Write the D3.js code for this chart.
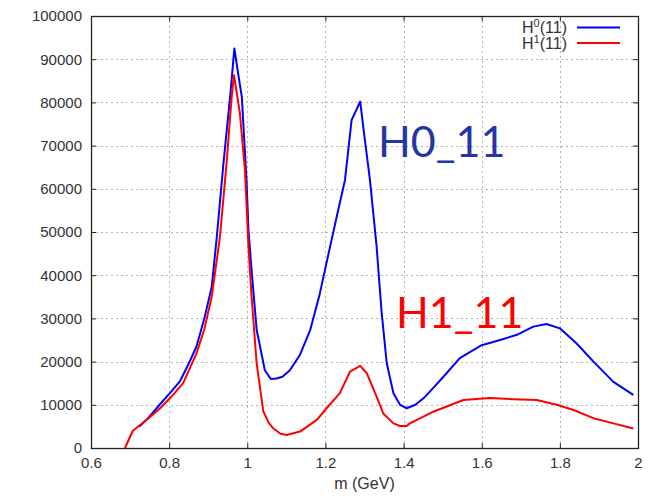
<!DOCTYPE html>
<html>
<head>
<meta charset="utf-8">
<script src="https://cdn.jsdelivr.net/npm/d3@7"></script>
<style>
  html, body { margin: 0; padding: 0; background: #fff; }
  svg { display: block; }
</style>
</head>
<body>
<svg id="chart" width="654" height="499"></svg>
<script>
// Mass points (GeV) and intensity for the H0(11) wave
const massH0 = [0.723, 0.745, 0.768, 0.785, 0.802, 0.828, 0.850, 0.870, 0.890, 0.909, 0.922, 0.939, 0.956, 0.967, 0.976, 0.986, 0.998, 1.003, 1.011, 1.024, 1.045, 1.060, 1.075, 1.090, 1.109, 1.135, 1.161, 1.185, 1.208, 1.230, 1.250, 1.267, 1.289, 1.300, 1.314, 1.331, 1.344, 1.357, 1.374, 1.391, 1.408, 1.430, 1.451, 1.475, 1.502, 1.544, 1.575, 1.600, 1.647, 1.690, 1.732, 1.766, 1.800, 1.843, 1.886, 1.937, 1.988];
const valH0  = [4900, 6800, 9200, 11000, 12700, 15500, 19500, 23500, 30000, 37300, 48900, 65900, 81300, 92500, 87000, 81300, 62000, 50500, 41200, 27300, 18000, 16000, 16100, 16500, 18000, 21600, 27300, 35500, 45000, 54000, 62000, 75900, 80200, 72000, 62000, 46600, 31200, 19600, 12700, 10000, 9200, 10000, 11500, 13800, 16500, 20800, 22500, 23800, 25000, 26200, 28100, 28700, 27700, 24200, 20000, 15300, 12300];

// Mass points (GeV) and intensity for the H1(11) wave
const massH1 = [0.687, 0.707, 0.742, 0.777, 0.802, 0.836, 0.870, 0.890, 0.909, 0.930, 0.947, 0.960, 0.966, 0.981, 0.994, 1.003, 1.011, 1.024, 1.041, 1.055, 1.067, 1.085, 1.101, 1.135, 1.178, 1.203, 1.237, 1.263, 1.289, 1.306, 1.331, 1.348, 1.374, 1.391, 1.408, 1.416, 1.476, 1.553, 1.621, 1.681, 1.741, 1.792, 1.835, 1.886, 1.937, 1.988];
const valH1  = [0, 4000, 6500, 9200, 11500, 15000, 21900, 27500, 35000, 48900, 65900, 81300, 86300, 77500, 64400, 46600, 35000, 19600, 8500, 5800, 4500, 3300, 3000, 3800, 6500, 9200, 12700, 17700, 19000, 17300, 11900, 8000, 5700, 5100, 5100, 5700, 8400, 11100, 11600, 11300, 11100, 10000, 8800, 6900, 5700, 4500];

// Axis ticks
const xTicks = [0.6, 0.8, 1.0, 1.2, 1.4, 1.6, 1.8, 2.0];
const yTicks = [0, 10000, 20000, 30000, 40000, 50000, 60000, 70000, 80000, 90000, 100000];

const seriesNames = ["H0", "H1"];
const seriesColors = ["#0000ff", "#ff0000"];

const svg = d3.select("#chart");
const plotLeft = 91, plotRight = 638, plotTop = 16, plotBottom = 448;

const x = d3.scaleLinear().domain([0.6, 2.0]).range([plotLeft, plotRight]);
const y = d3.scaleLinear().domain([0, 100000]).range([plotBottom, plotTop]);

const fontAxis = "'Liberation Sans', Arial, sans-serif";

// Dotted grid
const grid = svg.append("g").attr("stroke", "#b4b4b4").attr("stroke-width", 1)
  .attr("stroke-dasharray", "2,3");
grid.selectAll("line.gx").data(xTicks.slice(1, -1)).join("line").attr("class", "gx")
  .attr("x1", d => Math.round(x(d)) + 0.5).attr("x2", d => Math.round(x(d)) + 0.5)
  .attr("y1", plotTop).attr("y2", plotBottom);
grid.selectAll("line.gy").data(yTicks.slice(1, -1)).join("line").attr("class", "gy")
  .attr("y1", d => Math.round(y(d)) + 0.5).attr("y2", d => Math.round(y(d)) + 0.5)
  .attr("x1", plotLeft).attr("x2", plotRight);

// Axes (ticks inward, mirrored on top and right)
const fmtX = d => (d === 1 ? "1" : d === 2 ? "2" : d3.format(".1f")(d));
const xAxis = d3.axisBottom(x).tickValues(xTicks).tickSize(-5).tickPadding(9).tickFormat(fmtX);
const yAxis = d3.axisLeft(y).tickValues(yTicks).tickSize(-5).tickPadding(9).tickFormat(d3.format("d"));

const gx = svg.append("g").attr("transform", `translate(0,${plotBottom})`).call(xAxis);
const gy = svg.append("g").attr("transform", `translate(${plotLeft},0)`).call(yAxis);
const gxTop = svg.append("g").attr("transform", `translate(0,${plotTop})`)
  .call(d3.axisTop(x).tickValues(xTicks).tickSize(-5).tickFormat(""));
const gyRight = svg.append("g").attr("transform", `translate(${plotRight},0)`)
  .call(d3.axisRight(y).tickValues(yTicks).tickSize(-5).tickFormat(""));

[gx, gy, gxTop, gyRight].forEach(g => {
  g.select(".domain").remove();
  g.selectAll(".tick line").attr("stroke", "#222");
  g.selectAll(".tick text").attr("fill", "#333").style("font-family", fontAxis).style("font-size", "15px");
});

// Frame
svg.append("rect").attr("x", plotLeft + 0.5).attr("y", plotTop + 0.5)
  .attr("width", plotRight - plotLeft).attr("height", plotBottom - plotTop)
  .attr("fill", "none").attr("stroke", "#222").attr("stroke-width", 1.3);

// Axis title
svg.append("text").attr("x", (plotLeft + plotRight) / 2).attr("y", 489)
  .attr("text-anchor", "middle").attr("fill", "#333")
  .style("font-family", fontAxis).style("font-size", "16px").text("m (GeV)");

// Curves
const line = d3.line().x(d => x(d[0])).y(d => y(d[1]));
const seriesData = [d3.zip(massH0, valH0), d3.zip(massH1, valH1)];
svg.append("g").selectAll("path").data(seriesData).join("path")
  .attr("d", line).attr("fill", "none")
  .attr("stroke", (d, i) => seriesColors[i]).attr("stroke-width", 2)
  .attr("stroke-linejoin", "round");

// Legend
const legend = svg.append("g");
seriesNames.forEach((name, i) => {
  const ly = 27.5 + i * 15.5;
  const t = legend.append("text").attr("x", 567).attr("y", ly + 5.5).attr("text-anchor", "end")
    .attr("fill", "#333").style("font-family", fontAxis).style("font-size", "16px");
  t.append("tspan").text("H");
  t.append("tspan").attr("dy", -6).style("font-size", "11px").text(String(i));
  t.append("tspan").attr("dy", 6).text("(11)");
  legend.append("line").attr("x1", 577).attr("x2", 620).attr("y1", ly).attr("y2", ly)
    .attr("stroke", seriesColors[i]).attr("stroke-width", 2);
});

// Annotations
svg.append("text").attr("x", 378).attr("y", 157).attr("fill", "#2436a6")
  .style("font-family", "Lato, 'Open Sans', sans-serif").style("font-size", "43px")
  .text("H0_11");
svg.append("text").attr("x", 396).attr("y", 328).attr("fill", "#ff0000")
  .style("font-family", "Lato, 'Open Sans', sans-serif").style("font-size", "43px")
  .text("H1_11");
</script>
</body>
</html>
